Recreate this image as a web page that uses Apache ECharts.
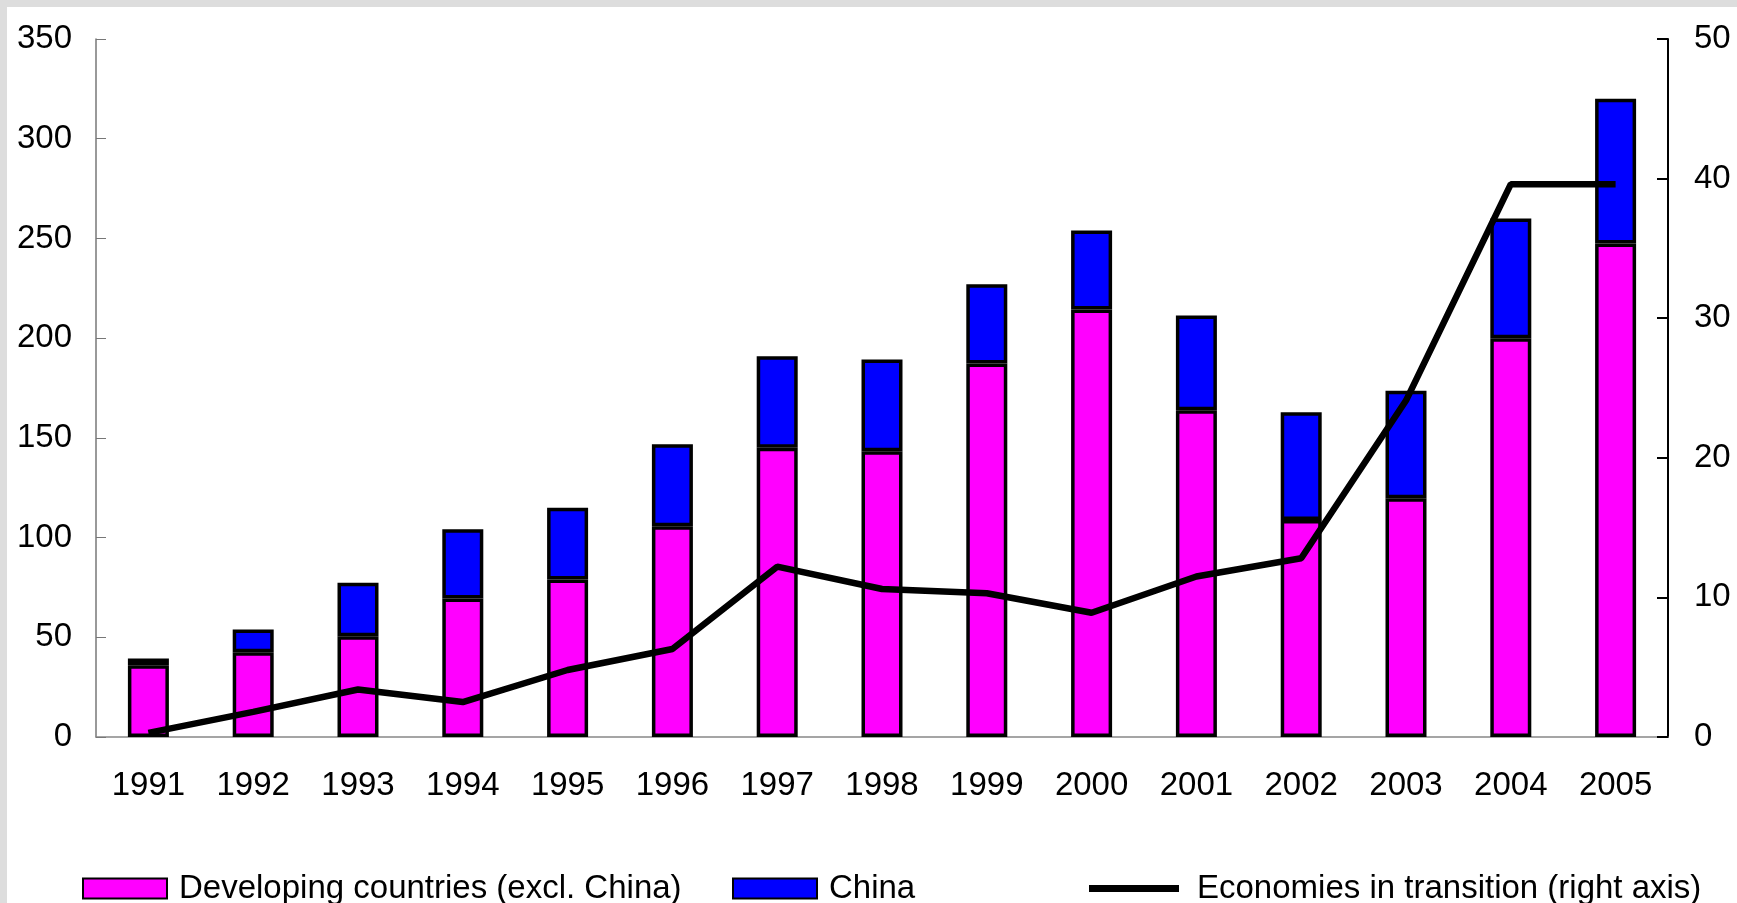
<!DOCTYPE html>
<html>
<head>
<meta charset="utf-8">
<script src="https://cdn.jsdelivr.net/npm/echarts@6/dist/echarts.min.js"></script>
<style>
    body { margin: 0; background: #dddddd; }
    #chart { position: absolute; left: 7px; top: 7px; width: 1730px; height: 896px; background: #fff; }
</style>
</head>
<body>
<div id="chart"></div>
<script>
var years = ['1991', '1992', '1993', '1994', '1995', '1996', '1997', '1998', '1999', '2000', '2001', '2002', '2003', '2004', '2005'];
var developing = [36, 42.5, 50.5, 69.5, 79, 105.7, 145, 143.3, 187.3, 214.3, 163.8, 108.8, 119.7, 200, 247.4];
var china = [3.3, 11.4, 26.9, 34.7, 36, 41.1, 45.9, 46, 39.7, 39.7, 47.6, 54, 53.9, 60, 72.6];
var transition = [0.3, 1.8, 3.4, 2.5, 4.8, 6.3, 12.2, 10.6, 10.3, 8.9, 11.5, 12.8, 24.1, 39.6, 39.6];

var font = 'Liberation Sans, Arial, sans-serif';

var myChart = echarts.init(document.getElementById('chart'));
var option = {
    animation: false,
    textStyle: { fontFamily: font },
    grid: { left: 89, right: 69, top: 32, bottom: 166 },
    legend: [
        {
            left: 70, top: 860,
            itemWidth: 84, itemHeight: 20,
            textStyle: { fontSize: 33, color: '#000', padding: [0, 0, 0, 7] },
            data: [{ name: 'Developing countries (excl. China)', icon: 'rect' }]
        },
        {
            left: 720, top: 860,
            itemWidth: 84, itemHeight: 20,
            textStyle: { fontSize: 33, color: '#000', padding: [0, 0, 0, 7] },
            data: [{ name: 'China', icon: 'rect' }]
        },
        {
            left: 1077, top: 860,
            itemWidth: 90, itemHeight: 7,
            textStyle: { fontSize: 33, color: '#000', padding: [0, 0, 0, 13] },
            data: [{ name: 'Economies in transition (right axis)', icon: 'rect', itemStyle: { color: '#000', borderWidth: 0 } }]
        }
    ],
    xAxis: {
        type: 'category',
        data: years,
        axisLine: { lineStyle: { color: '#888', width: 1.5 } },
        axisTick: { inside: true, length: 9, lineStyle: { color: '#888' } },
        axisLabel: { fontSize: 33, color: '#000', margin: 32 }
    },
    yAxis: [
        {
            type: 'value', min: 0, max: 350, interval: 50,
            splitLine: { show: false },
            axisLine: { show: true, lineStyle: { color: '#777', width: 1.5 } },
            axisTick: { show: true, inside: true, length: 10, lineStyle: { color: '#777' } },
            axisLabel: { fontSize: 33, color: '#000', margin: 24 }
        },
        {
            type: 'value', min: 0, max: 50, interval: 10,
            splitLine: { show: false },
            axisLine: { show: true, lineStyle: { color: '#000', width: 2 } },
            axisTick: { show: true, inside: true, length: 11, lineStyle: { color: '#000', width: 2 } },
            axisLabel: { fontSize: 33, color: '#000', margin: 26 }
        }
    ],
    series: [
        {
            name: 'Developing countries (excl. China)',
            type: 'bar', stack: 'fdi', barWidth: 41,
            itemStyle: { color: '#ff00ff', borderColor: '#000', borderWidth: 3.5 },
            data: developing
        },
        {
            name: 'China',
            type: 'bar', stack: 'fdi', barWidth: 41,
            itemStyle: { color: '#0000ff', borderColor: '#000', borderWidth: 3.5 },
            data: china
        },
        {
            name: 'Economies in transition (right axis)',
            type: 'line', yAxisIndex: 1,
            symbol: 'none',
            lineStyle: { color: '#000', width: 6.5 },
            itemStyle: { color: '#000' },
            data: transition
        }
    ]
};
myChart.setOption(option);
</script>
</body>
</html>
